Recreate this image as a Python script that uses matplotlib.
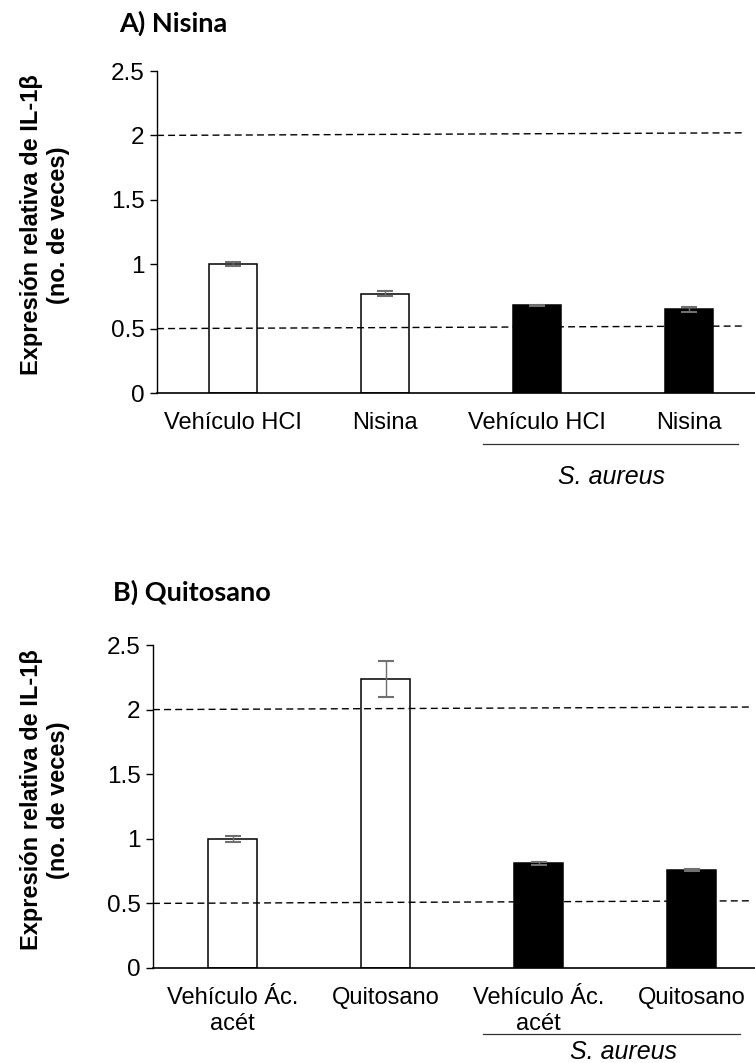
import numpy as np
import matplotlib.pyplot as plt
from matplotlib.lines import Line2D

plt.rcParams['font.family'] = ['Liberation Sans', 'DejaVu Sans']

# Datos: expresión relativa de IL-1β (media y error)
etiquetas_a = ['Vehículo HCI', 'Nisina', 'Vehículo HCI', 'Nisina']
valores_a = [1.00, 0.77, 0.68, 0.65]
errores_a = [0.015, 0.02, 0.006, 0.02]

etiquetas_b = ['Vehículo Ác.\nacét', 'Quitosano', 'Vehículo Ác.\nacét', 'Quitosano']
valores_b = [1.00, 2.24, 0.81, 0.76]
errores_b = [0.025, 0.14, 0.01, 0.01]

colores = ['white', 'white', 'black', 'black']
umbral_sup = [2.0, 2.02]
umbral_inf = [0.5, 0.52]

W, H = 755, 1063
fig = plt.figure(figsize=(W / 100, H / 100), dpi=100)


def px(x0, y0, x1, y1):
    # rectángulo en píxeles -> coordenadas de figura
    return [x0 / W, 1 - y1 / H, (x1 - x0) / W, (y1 - y0) / H]


def panel(rect, etiquetas, valores, errores, xmin, xfin, titulo, tit_pos, lab_y,
          linea_y, sa_pos, linea_x):
    ax = fig.add_axes(rect)
    x = np.arange(len(valores))
    ax.bar(x, valores, width=0.316, color=colores, edgecolor='black',
           linewidth=1.1, zorder=2)
    ax.errorbar(x, valores, yerr=errores, fmt='none', ecolor='#707070',
                elinewidth=1.0, capsize=6, capthick=1.5, zorder=4)
    ax.plot([xmin, xfin], umbral_sup, 'k', lw=1.0, dashes=(5, 3), zorder=3)
    ax.plot([xmin, xfin], umbral_inf, 'k', lw=1.0, dashes=(5, 3), zorder=3)
    ax.set_xlim(xmin, 3.5)
    ax.set_ylim(0, 2.5)
    ax.set_yticks([0, 0.5, 1, 1.5, 2, 2.5])
    ax.set_yticklabels(['0', '0.5', '1', '1.5', '2', '2.5'], fontsize=17.5)
    ax.set_xticks(x)
    ax.set_xticklabels(etiquetas, fontsize=17, linespacing=1.2)
    ax.tick_params(axis='x', length=0, pad=14)
    ax.tick_params(axis='y', length=5, width=1.0, pad=4, direction='out')
    for s in ['top', 'right']:
        ax.spines[s].set_visible(False)
    ax.spines['left'].set_linewidth(1.0)
    ax.spines['bottom'].set_linewidth(1.2)
    ax.spines['bottom'].set_bounds(xmin, 3.5)

    fig.text(tit_pos[0] / W, 1 - tit_pos[1] / H, titulo, family='Lato',
             fontweight='bold', fontsize=19.5, va='center', ha='left')
    fig.text(45 / W, 1 - lab_y / H, 'Expresión relativa de IL-1β\n(no. de veces)',
             rotation=90, ha='center', va='center', fontsize=17,
             fontweight='bold', multialignment='center', linespacing=1.25)
    fig.add_artist(Line2D([linea_x[0] / W, linea_x[1] / W],
                          [1 - linea_y / H, 1 - linea_y / H],
                          color='#333333', lw=0.9))
    fig.text(sa_pos[0] / W, 1 - sa_pos[1] / H, 'S. aureus', style='italic',
             fontsize=18, ha='center', va='center')
    return ax


panel(px(157, 71, 157 + 152 * 4.0, 393), etiquetas_a, valores_a, errores_a,
      -0.5, 3.36, 'A) Nisina', (119, 23), 225, 444, (612, 477), (483, 738))
panel(px(153, 645, 153 + 153 * 4.02, 968), etiquetas_b, valores_b, errores_b,
      -0.52, 3.38, 'B) Quitosano', (113, 592), 800, 1034, (624, 1052), (483, 740))

plt.savefig('out.png', dpi=100)
